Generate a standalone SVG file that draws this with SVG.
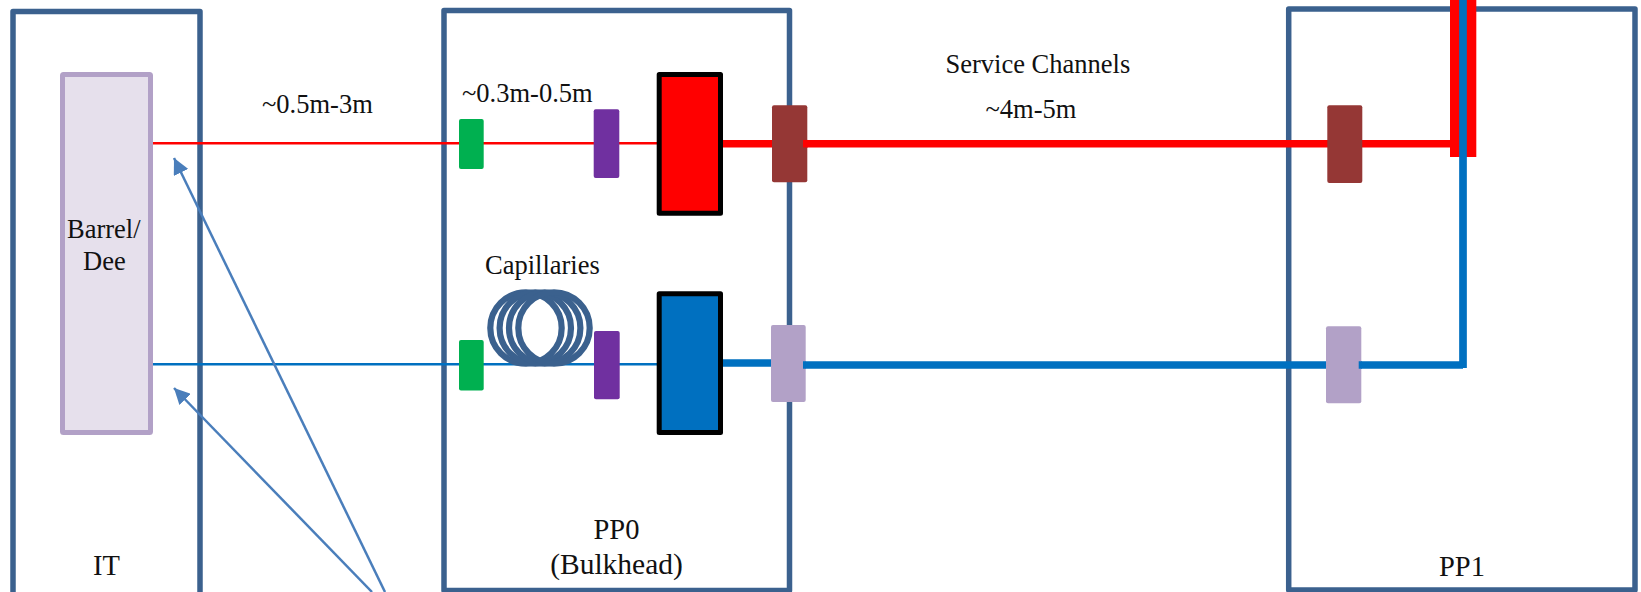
<svg xmlns="http://www.w3.org/2000/svg" width="1641" height="592" viewBox="0 0 1641 592">
<style>
text{font-family:"Liberation Serif","Times New Roman",serif;fill:#111;font-size:26.500px}
.lg{font-size:28.500px}
.box{fill:none;stroke:#3b618e;stroke-width:5.500;stroke-linejoin:round}
.green{fill:#00b050}.purple{fill:#7030a0}.brown{fill:#953735}.lilac{fill:#b2a1c7}
.coil{fill:none;stroke:#3b618e;stroke-width:6.200}
.arrow{fill:none;stroke:#4a7ebb;stroke-width:2.500;marker-end:url(#ah)}
.thick{fill:none;stroke-width:7.500}
.thin{fill:none;stroke-width:2.500}
.red{stroke:#f00}.blue{stroke:#0070c0}
.mod{stroke:#000;stroke-width:5;stroke-linejoin:round}
</style>
<defs>
<marker id="ah" markerUnits="userSpaceOnUse" markerWidth="18" markerHeight="16" refX="16" refY="8" orient="auto"><path d="M0 0L16 8L0 16Z" fill="#4a7ebb"/></marker>
</defs>
<rect width="1641" height="592" fill="#fff"/>
<g id="it"><rect class="box" x="13" y="11.500" width="187" height="590"/><text class="lg" x="93" y="575">IT</text></g>
<g id="pp0"><rect class="box" x="444" y="10.500" width="345.500" height="580"/><text class="lg" x="616.500" y="539" text-anchor="middle">PP0</text><text x="616.500" y="574" text-anchor="middle" style="font-size:29.500px">(Bulkhead)</text></g>
<g id="pp1"><rect class="box" x="1288.700" y="9" width="346.300" height="581"/><text class="lg" x="1439" y="576">PP1</text></g>
<g id="connectors">
<path class="thin red" d="M153 143.300H659"/>
<path class="thin blue" d="M153 364.300H659"/>
<path class="thick red" d="M723 143.700H772M803 143.700H1328M1362 143.700H1452"/>
<path class="thick blue" d="M723 363H772M803 365H1328M1358.700 365H1463"/>
</g>
<g id="barrel"><rect x="62.500" y="74.500" width="88" height="358" rx="1" fill="#e6e0ec" stroke="#b2a1c7" stroke-width="5" stroke-linejoin="round"/><text x="67" y="238">Barrel/</text><text x="83" y="270">Dee</text></g>
<g id="coil"><circle class="coil" cx="526" cy="328" r="35.700"/><circle class="coil" cx="535.300" cy="328" r="35.700"/><circle class="coil" cx="544.700" cy="328" r="35.700"/><circle class="coil" cx="554" cy="328" r="35.700"/><text x="485" y="274">Capillaries</text></g>
<g id="green1"><rect class="green" x="459" y="119" width="24.700" height="50" rx="2"/></g>
<g id="green2"><rect class="green" x="459" y="340" width="24.700" height="50.500" rx="2"/></g>
<g id="purple1"><rect class="purple" x="593.700" y="109.300" width="25.600" height="68.700" rx="2"/></g>
<g id="purple2"><rect class="purple" x="594" y="331" width="25.700" height="68.300" rx="2"/></g>
<g id="redbox"><rect class="mod" x="659.200" y="74.500" width="61.300" height="138.700" fill="#f00"/></g>
<g id="bluebox"><rect class="mod" x="659.200" y="293.800" width="61.300" height="138.700" fill="#0070c0"/></g>
<g id="brown1"><rect class="brown" x="772" y="105.300" width="35.300" height="77" rx="2"/></g>
<g id="lilac1"><rect class="lilac" x="771" y="325" width="34.700" height="77" rx="2"/></g>
<g id="brown2"><rect class="brown" x="1327.300" y="105.300" width="35" height="77.700" rx="2"/></g>
<g id="lilac2"><rect class="lilac" x="1326" y="326.300" width="35.300" height="77" rx="2"/></g>
<g id="overlays">
<path class="thick red" d="M803 143.700H808"/>
<path class="thick blue" d="M803 365H806M1358.700 365H1362"/>
<rect x="1450" y="0" width="26.300" height="157" fill="#f00"/>
<path d="M1463 0V368" fill="none" stroke="#0070c0" stroke-width="7.700"/>
</g>
<g id="arrows">
<path class="arrow" d="M385 592L174 158"/>
<path class="arrow" d="M372 592L174 388"/>
</g>
<g id="labels">
<text x="262" y="113">~0.5m-3m</text>
<text x="462" y="102">~0.3m-0.5m</text>
<text x="945.500" y="73">Service Channels</text>
<text x="985.500" y="118">~4m-5m</text>
</g>
</svg>
